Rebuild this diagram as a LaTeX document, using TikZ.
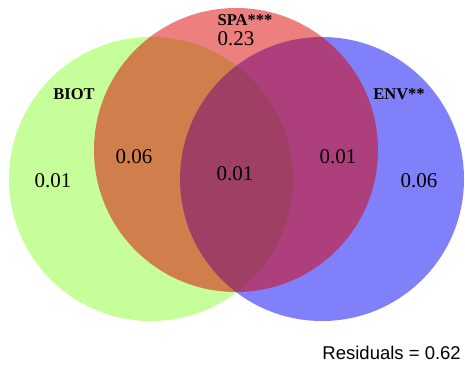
\documentclass[tikz,border=0pt]{standalone}
\usepackage{fontspec}
\setmainfont{Liberation Serif}
\newfontfamily\arialish{Liberation Sans}
\definecolor{biotc}{RGB}{141,255,53}
\definecolor{spac}{RGB}{219,0,0}
\definecolor{envc}{RGB}{1,1,245}
\begin{document}
\begin{tikzpicture}[x=1pt,y=-1pt,
  setfill/.style={fill=#1,fill opacity=0.5,draw=none},
  setname/.style={anchor=base,font=\fontsize{16.5}{18}\selectfont\bfseries,inner sep=0pt,text depth=0pt},
  part/.style={anchor=base,font=\fontsize{21}{24}\selectfont,inner sep=0pt,text height=14pt,text depth=0pt}]
\useasboundingbox (0,0) rectangle (465,365);
% the three sets, drawn green, blue, then red
\fill[setfill=biotc] (151,179) circle[radius=142];
\fill[setfill=envc] (322,179) circle[radius=142];
\fill[setfill=spac] (236,150) circle[radius=142];
% set names
\node[setname] (biot) at (74,99) {BIOT};
\node[setname] (spa) at (245,25) {SPA***};
\node[setname] (env) at (399,99) {ENV**};
% fractions
\node[part] (pspa) at (236,45) {0.23};
\node[part] (pbiot) at (53,187) {0.01};
\node[part] (pbs) at (134,163) {0.06};
\node[part] (pall) at (235,180) {0.01};
\node[part] (pse) at (338,163) {0.01};
\node[part] (penv) at (419,187) {0.06};
\node[anchor=base east,inner sep=0pt,font=\arialish\fontsize{18.5}{20}\selectfont] (resid) at (461,359) {Residuals = 0.62};
\end{tikzpicture}
\end{document}
